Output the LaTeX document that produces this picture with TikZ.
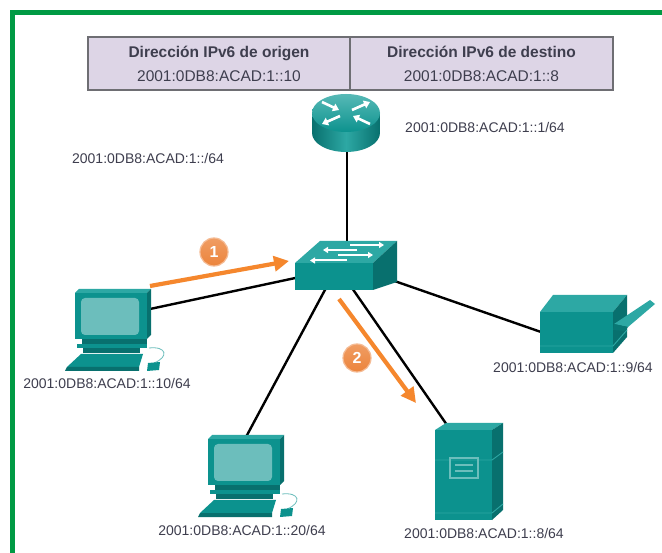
\documentclass[tikz,border=0pt]{standalone}
\usepackage{fontspec}
\setmainfont{Liberation Sans}
\usetikzlibrary{arrows.meta}

\definecolor{framegreen}{RGB}{0,154,68}
\definecolor{tealmd}{RGB}{12,146,142}
\definecolor{tealhi}{RGB}{45,168,164}
\definecolor{tealdk}{RGB}{8,112,110}
\definecolor{screenc}{RGB}{108,190,188}
\definecolor{cellfill}{RGB}{221,213,230}
\definecolor{cellline}{RGB}{110,110,115}
\definecolor{labelc}{RGB}{62,62,78}
\definecolor{flow}{RGB}{245,135,45}
\definecolor{badge}{RGB}{236,132,60}

\tikzset{
  link/.style={line width=2.4pt, black},
  flowarrow/.style={line width=4.2pt, flow, -{Triangle[length=15pt,width=15pt]}},
  addr/.style={text=labelc, font=\fontsize{14}{16}\selectfont, inner sep=0pt},
  cell/.style={draw=cellline, line width=1.3pt, fill=cellfill, text=labelc,
    minimum width=262pt, minimum height=53pt, align=center,
    font=\fontsize{15.5}{24}\selectfont, inner sep=0pt},
  stepbadge/.style={circle, top color=badge!80!white, bottom color=badge, draw=badge!55!white,
    line width=1.2pt, minimum size=28pt, inner sep=0pt, text=white,
    font=\bfseries\fontsize{16}{16}\selectfont},
  wharrow/.style={white, line width=2.6pt, -{Triangle[length=6pt,width=8pt]}},
  swarrow/.style={white, line width=2pt, -{Triangle[length=5pt,width=6pt]}},
  computer/.pic={
    % monitor
    \fill[tealhi] (0,0) -- (4,-4) -- (76,-4) -- (72,0) -- cycle;
    \fill[tealdk] (72,0) -- (76,-4) -- (76,42) -- (72,46) -- cycle;
    \fill[tealmd] (0,0) rectangle (72,46);
    \fill[screenc, rounded corners=4pt] (6,5) rectangle (64,42);
    % stand
    \fill[tealdk] (7,46) rectangle (72,51);
    \fill[tealmd] (2,51) rectangle (72,55);
    \fill[tealdk] (8,55) rectangle (65,60);
    % keyboard
    \fill[tealmd] (6,61) -- (68,61) -- (64,74) -- (-8,74) -- cycle;
    \fill[tealdk] (-8,74) -- (64,74) -- (64,78) -- (-10,78) -- cycle;
    % mouse and cable
    \draw[screenc, line width=0.8pt] (74,55) .. controls (92,53) and (94,64) .. (79,70);
    \fill[tealmd] (73,70) -- (85,69) -- (84,77) -- (72,78) -- cycle;
  }
}

\begin{document}
\begin{tikzpicture}[x=1pt,y=-1pt]
\useasboundingbox (0,0) rectangle (662,553);
\fill[white] (0,0) rectangle (662,553);

% outer frame
\draw[framegreen, line width=5pt] (12.5,553) -- (12.5,12.5) -- (662,12.5);

% header table
\node[cell] (srccell) at (219,63.5) {\textbf{Dirección IPv6 de origen}\\2001:0DB8:ACAD:1::10};
\node[cell, minimum width=263pt] (dstcell) at (481.5,63.5) {\textbf{Dirección IPv6 de destino}\\2001:0DB8:ACAD:1::8};

% attachment points
\coordinate (rtr) at (347,150);
\coordinate (swtop) at (347,252);
\coordinate (swleft) at (300,277);
\coordinate (swbl) at (326,288);
\coordinate (swbr) at (352,288);
\coordinate (swright) at (383,277);
\coordinate (pca) at (150,309);
\coordinate (pcb) at (246,437);
\coordinate (srv) at (447,425);
\coordinate (prn) at (541,332);

% links
\draw[link] (rtr) -- (swtop);
\draw[link] (pca) -- (swleft);
\draw[link] (pcb) -- (swbl);
\draw[link] (srv) -- (swbr);
\draw[link] (prn) -- (swright);

% router
\shade[left color=tealdk, right color=tealdk, middle color=tealhi]
  (312,113) -- (312,133) arc[start angle=180, end angle=360, x radius=34pt, y radius=19pt]
  -- (380,113) -- cycle;
\shade[top color=tealhi!80!white, bottom color=tealmd] (346,113) ellipse[x radius=34pt, y radius=19pt];
\draw[wharrow] (322,102) -- (339,110);
\draw[wharrow] (370,124) -- (353,116);
\draw[wharrow] (352,110) -- (370,102);
\draw[wharrow] (340,116) -- (322,124);

% switch
\fill[tealhi] (295,263) -- (320,241) -- (397,241) -- (373,263) -- cycle;
\fill[tealdk] (373,263) -- (397,241) -- (397,282) -- (373,290) -- cycle;
\fill[tealmd] (295,263) rectangle (373,290);
\draw[swarrow] (350,245) -- (384,245);
\draw[swarrow] (357,250) -- (323,250);
\draw[swarrow] (338,255) -- (373,255);
\draw[swarrow] (347,260.5) -- (310,260.5);

% hosts
\pic at (75,293) {computer};
\pic at (208,439) {computer};

% server
\fill[tealhi] (435,430) -- (446,423) -- (503,423) -- (492,430) -- cycle;
\fill[tealdk] (492,430) -- (503,423) -- (503,510) -- (492,520) -- cycle;
\fill[tealmd] (435,430) rectangle (492,520);
\draw[tealhi, line width=0.9pt] (435,460) -- (492,460) -- (503,452);
\draw[tealhi, line width=0.9pt] (435,513) -- (492,513) -- (503,504);
\draw[screenc, line width=1.2pt] (450,458) rectangle (478,478);
\draw[screenc, line width=1.2pt] (455,465) -- (473,465) (455,471) -- (473,471);

% printer
\fill[tealhi] (540,312) -- (553,295) -- (627,295) -- (613,312) -- cycle;
\fill[tealdk] (613,312) -- (627,295) -- (627,337) -- (613,353) -- cycle;
\fill[tealmd] (540,312) rectangle (613,353);
\draw[tealhi, line width=0.9pt] (540,346) -- (613,346) -- (627,330);
\fill[tealhi] (614,324) -- (650,300) -- (655,304) -- (628,327) -- cycle;
\fill[tealdk!80!tealmd] (614,324) -- (628,327) -- (625,331) -- (613,330) -- cycle;

% traffic flow
\draw[flowarrow] (150,286) -- (289,261);
\draw[flowarrow] (339,299) -- (416,403);
\node[stepbadge] (stepone) at (214,252) {1};
\node[stepbadge] (steptwo) at (357,358) {2};

% addresses
\node[addr] (rtraddr) at (485,127) {2001:0DB8:ACAD:1::1/64};
\node[addr] (netaddr) at (148,158) {2001:0DB8:ACAD:1::/64};
\node[addr] (pcaaddr) at (107,383) {2001:0DB8:ACAD:1::10/64};
\node[addr] (pcbaddr) at (242,530) {2001:0DB8:ACAD:1::20/64};
\node[addr] (srvaddr) at (484,533) {2001:0DB8:ACAD:1::8/64};
\node[addr] (prnaddr) at (573,367) {2001:0DB8:ACAD:1::9/64};
\end{tikzpicture}
\end{document}
